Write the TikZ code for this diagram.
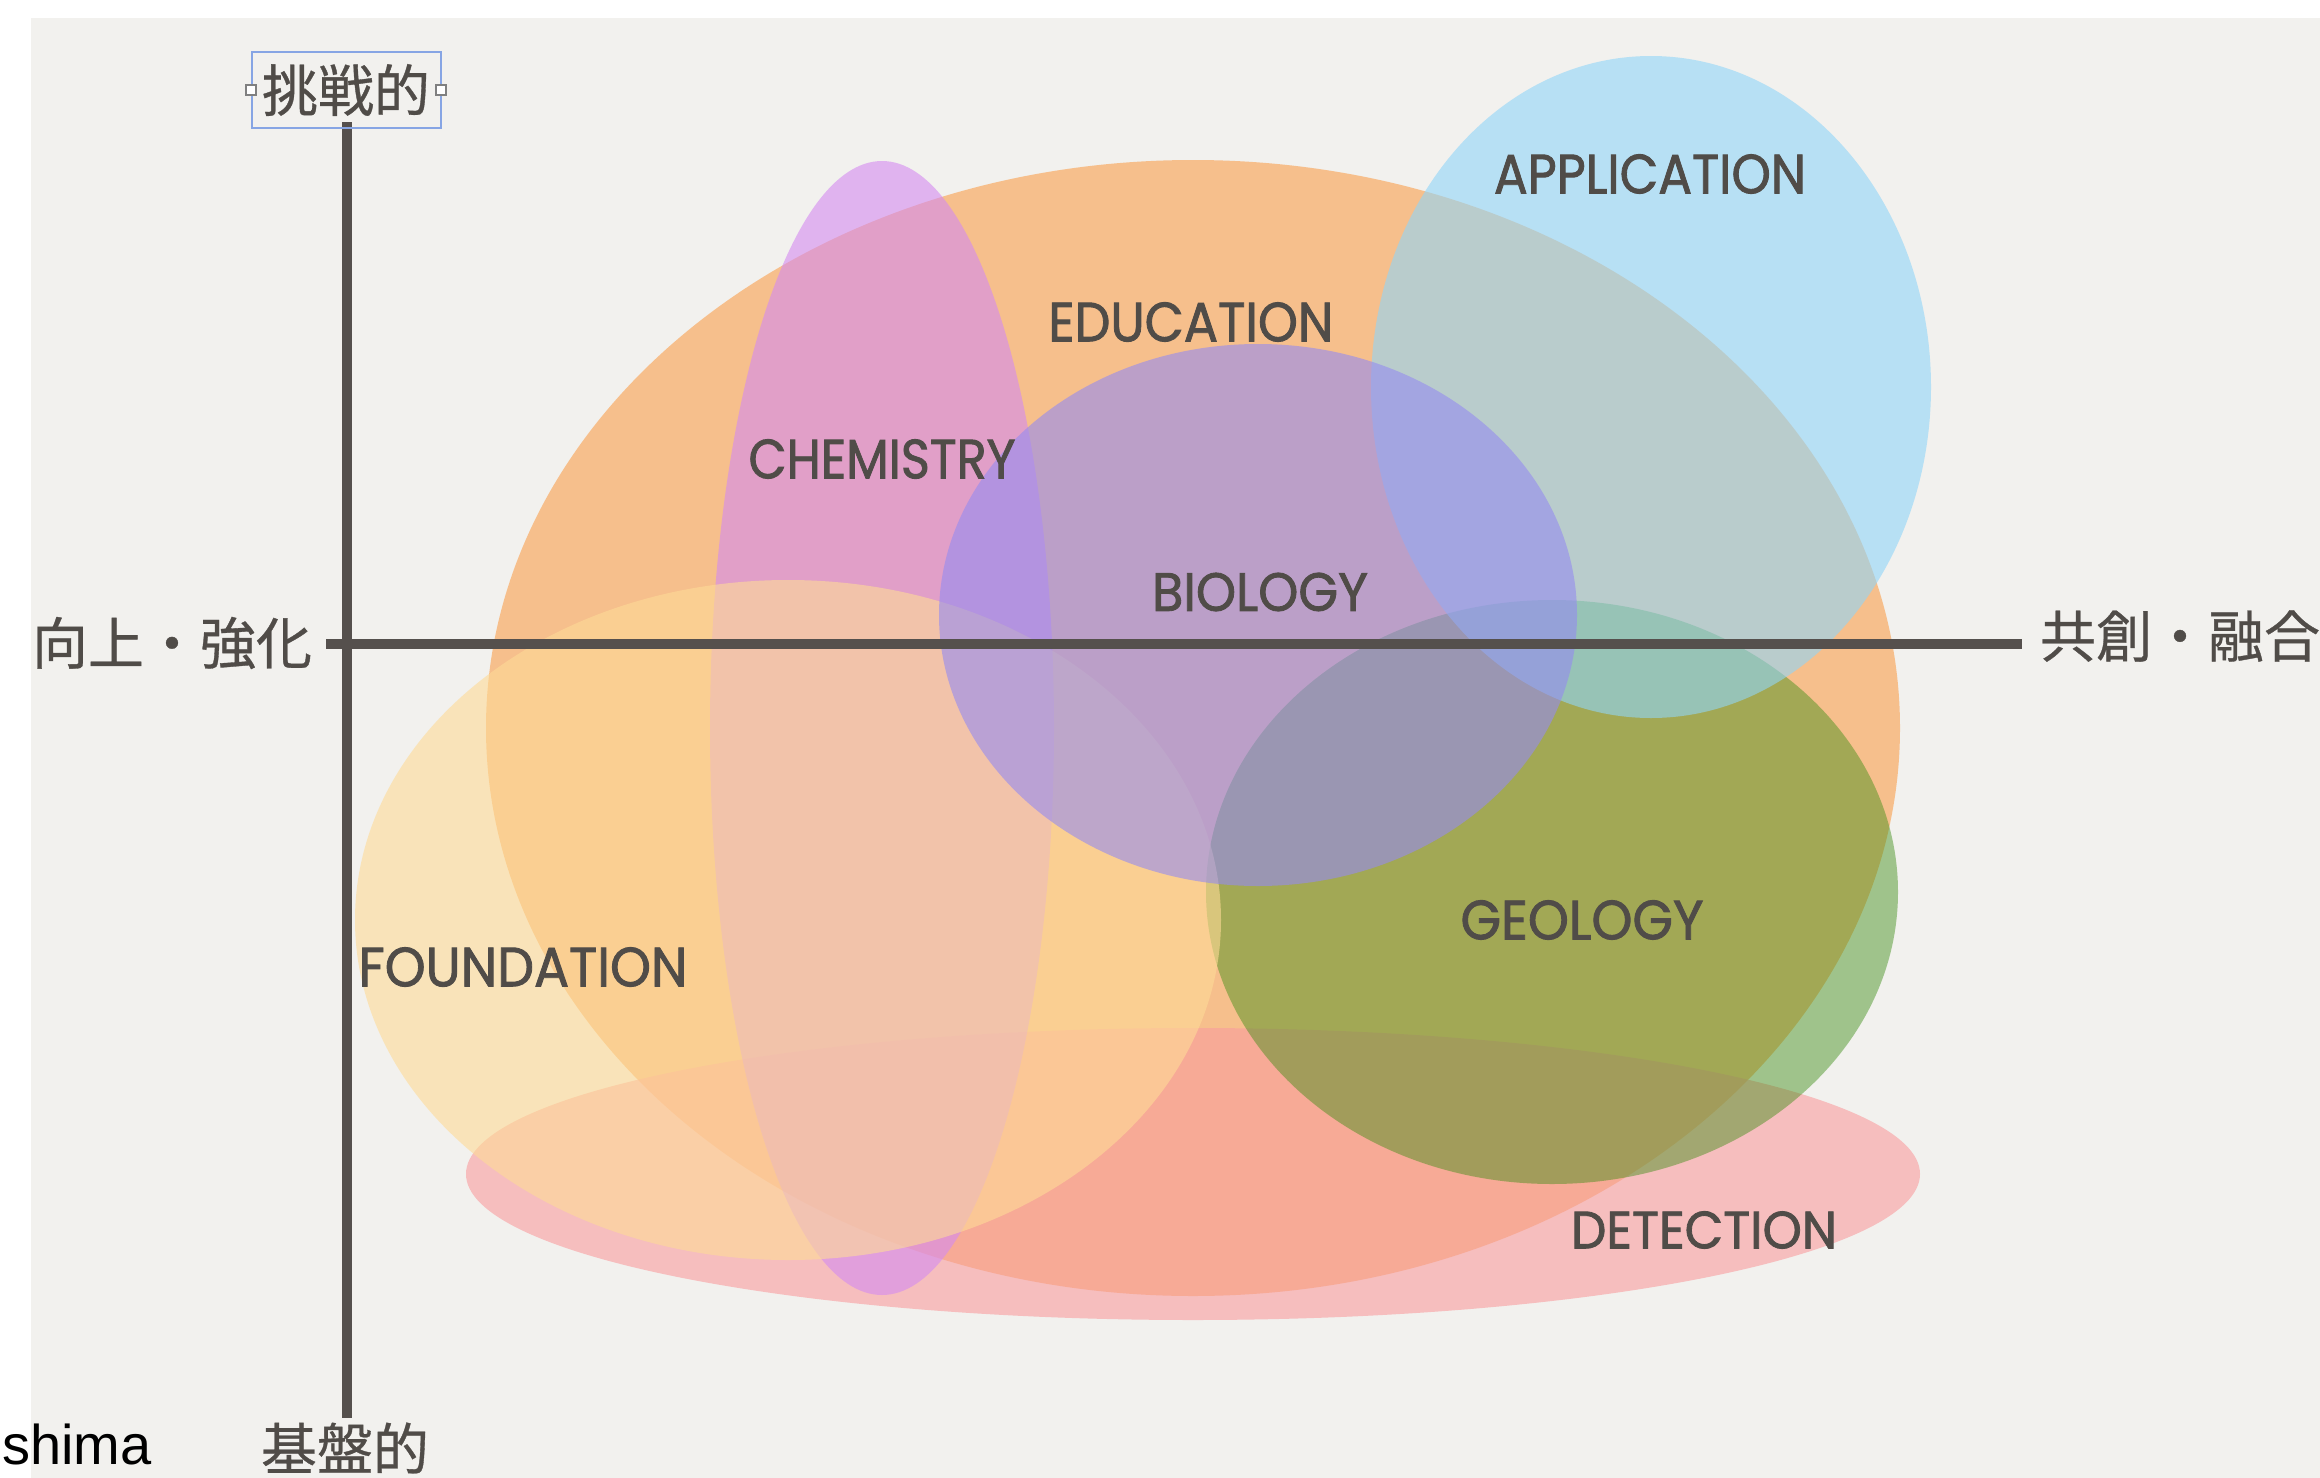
\documentclass[tikz,border=0pt]{standalone}
\usepackage{fontspec}
\usepackage{graphicx}
\setmainfont{Liberation Sans}
\newfontfamily\cjk{Noto Sans CJK JP}[FakeBold=0.6]
\newfontfamily\lab{Poppins}[FakeBold=1.6]
\definecolor{paper}{RGB}{242,241,238}
\definecolor{ink}{RGB}{80,76,72}
\definecolor{axisc}{RGB}{85,80,77}
\definecolor{edu}{RGB}{250,159,75}
\definecolor{det}{RGB}{249,156,158}
\definecolor{geo}{RGB}{60,141,20}
\definecolor{chem}{RGB}{212,139,241}
\definecolor{found}{RGB}{254,219,150}
\definecolor{app}{RGB}{145,213,248}
\definecolor{bio}{RGB}{149,139,240}
\definecolor{selbox}{RGB}{135,165,228}
\newcommand\lbl[3]{\resizebox{#1pt}{#2pt}{\lab #3}}
\tikzset{
  blob/.style={fill=#1, fill opacity=0.6, draw=none},
  catlabel/.style={inner sep=0pt, text=ink},
  axlabel/.style={inner sep=0pt, text=ink, font=\cjk\fontsize{28pt}{30pt}\selectfont},
  axisline/.style={draw=axisc, line width=5pt},
  handle/.style={draw=gray, fill=white, line width=0.6pt, minimum size=5pt, inner sep=0pt}
}
\begin{document}
\begin{tikzpicture}[x=0.5pt,y=-0.5pt]
\useasboundingbox (0,0) rectangle (2320,1478);
\fill[white] (0,0) rectangle (2320,1478);
\fill[paper] (31,18) rectangle (2320,1478);

% sets
\fill[blob=edu]   (1193,728)  ellipse [x radius=353.5pt, y radius=284pt];
\fill[blob=det]   (1193,1174) ellipse [x radius=363.5pt, y radius=73pt];
\fill[blob=geo, fill opacity=0.45] (1552,892) ellipse [x radius=173pt, y radius=146pt];
\fill[blob=chem]  (882,728)   ellipse [x radius=86pt, y radius=283.5pt];
\fill[blob=found] (788,920)   ellipse [x radius=216.5pt, y radius=170pt];
\fill[blob=app]   (1651,387)  ellipse [x radius=140pt, y radius=165.5pt];
\fill[blob=bio]   (1258,615)  ellipse [x radius=159.5pt, y radius=135.5pt];

% axes
\coordinate (vtop) at (347,122);
\coordinate (vbot) at (347,1418);
\coordinate (hl) at (326,644);
\coordinate (hr) at (2022,644);
\draw[axisline] (vtop) -- (vbot);
\draw[axisline] (hl) -- (hr);

% axis labels
\node[axlabel] (top) at (346,90) {挑戦的};
\draw[selbox, line width=1pt] (252,52) rectangle (441,128);
\node[handle] (hleft) at (251,90) {};
\node[handle] (hright) at (441,90) {};
\node[axlabel] (bottom) at (345,1448) {基盤的};
\node[axlabel] (left) at (172,643) {向上・強化};
\node[axlabel] (right) at (2180,636) {共創・融合};

\node[anchor=base east, inner sep=0pt, font=\fontsize{28pt}{30pt}\selectfont] (shima) at (152,1464) {shima};

% set labels
\node[catlabel] (lapp)   at (1650,174) {\lbl{156}{19.5}{APPLICATION}};
\node[catlabel] (ledu)   at (1191,322) {\lbl{142.5}{19.5}{EDUCATION}};
\node[catlabel] (lchem)  at (882,459)  {\lbl{133.5}{19.5}{CHEMISTRY}};
\node[catlabel] (lbio)   at (1260,592) {\lbl{108}{19}{BIOLOGY}};
\node[catlabel] (lgeo)   at (1582,920) {\lbl{121.5}{19.5}{GEOLOGY}};
\node[catlabel] (lfound) at (523,967)  {\lbl{164.5}{19.5}{FOUNDATION}};
\node[catlabel] (ldet)   at (1704,1230) {\lbl{133}{18.5}{DETECTION}};
\end{tikzpicture}
\end{document}
